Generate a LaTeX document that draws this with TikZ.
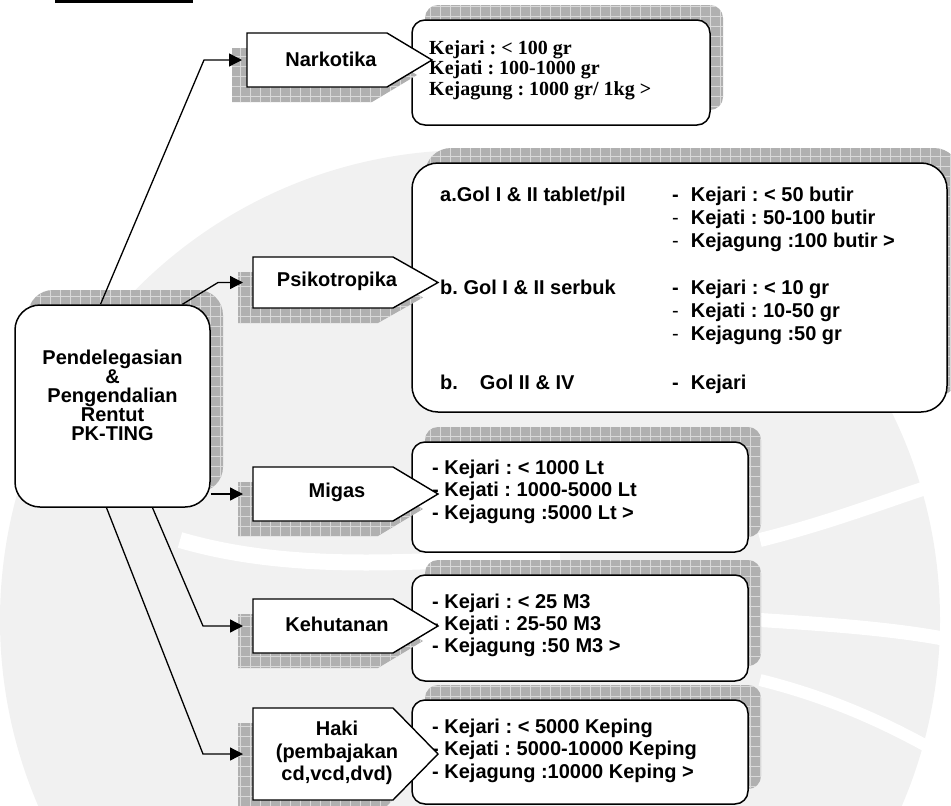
\documentclass[tikz,border=0pt]{standalone}
\usepackage{fontspec}
\setmainfont{Liberation Sans}
\newfontfamily\timesbold{Liberation Serif}
\usetikzlibrary{positioning, arrows.meta, calc, patterns.meta, shadows}
\frenchspacing

% pentagon tag: top-left corner (#1,#2), half height #3
\newcommand{\tagpath}[3]{(#1,#2) -- ++(140,0) -- ++(45,#3) -- ++(-45,#3) -- ++(-140,0) -- cycle}

\begin{document}
\begin{tikzpicture}[
    x=1pt, y=-1pt,
    font=\bfseries\fontsize{20}{22}\selectfont,
    >={Triangle[length=13pt, width=13pt]},
    % grey grid shadow, shifted by (#1,#2)
    grid_shadow/.style 2 args={
        general shadow={shadow xshift=#1, shadow yshift=#2, draw=none, fill=gray!62},
        general shadow={shadow xshift=#1, shadow yshift=#2, draw=none,
            pattern={Hatch[distance=10pt, line width=0.7pt]}, pattern color=gray!30}
    },
    tagshadow/.style={fill=gray!62, xshift=-15pt, yshift=-15pt,
        postaction={pattern={Hatch[distance=10pt, line width=0.7pt]}, pattern color=gray!30}},
    tagline/.style={draw, line width=1.4pt, fill=white, line join=miter},
    mainbox/.style={draw, line width=1.5pt, fill=white, rounded corners=25pt,
        minimum width=195pt, minimum height=202pt, grid_shadow={13pt}{15pt}},
    infobox/.style={draw, line width=1.5pt, fill=white, rounded corners=13pt,
        inner sep=0pt, grid_shadow={13pt}{15pt}},
    listtext/.style={anchor=base west, align=left, inner sep=0pt},
    conn/.style={line width=1.3pt, ->, shorten >=10pt}
]
    \useasboundingbox (0,0) rectangle (951,806);
    \clip (0,0) rectangle (951,806);

    % --- faint watermark in the background ---
    \fill [gray!11] (470,620) circle (470);
    \draw [white, line width=16pt] (180,540) .. controls (300,575) and (430,560) .. (560,555);
    \draw [white, line width=14pt] (760,540) .. controls (840,520) and (900,495) .. (951,480);
    \draw [white, line width=14pt] (760,620) .. controls (840,625) and (900,630) .. (951,640);
    \draw [white, line width=12pt] (760,680) .. controls (840,700) and (900,730) .. (951,760);

    % --- remnant of the heading underline ---
    \draw [line width=3pt] (55,1) -- (193,1);

    % --- detail boxes on the right ---
    \node [infobox, minimum width=298pt, minimum height=105pt] (narkoinfo) at (561,72.5) {};
    \node [infobox, rounded corners=26pt, minimum width=535pt, minimum height=249pt] (psikoinfo) at (679.5,287.5) {};
    \node [infobox, minimum width=336pt, minimum height=110pt] (migasinfo) at (580,497) {};
    \node [infobox, minimum width=336pt, minimum height=106pt] (hutaninfo) at (580,628) {};
    \node [infobox, minimum width=336pt, minimum height=104pt] (hakiinfo) at (580,752) {};

    % texts of the detail boxes (base = baseline of the last line)
    \node [listtext, font=\timesbold\bfseries\fontsize{20}{20.5}\selectfont] (narkolist) at (429,95)
        {Kejari : < 100 gr\\Kejati : 100-1000 gr\\Kejagung : 1000 gr/ 1kg >};

    \node [listtext] (psikoA) at (440,201) {a.Gol I \& II tablet/pil};
    \node [listtext, font=\bfseries\fontsize{20}{23}\selectfont] (psikoAlist) at (672,247)
        {-\hspace{0.6em}Kejari : < 50 butir\\{\mdseries -}\hspace{0.6em}Kejati : 50-100 butir\\{\mdseries -}\hspace{0.6em}Kejagung :100 butir >};
    \node [listtext] (psikoB) at (440,294) {b. Gol I \& II serbuk};
    \node [listtext, font=\bfseries\fontsize{20}{23}\selectfont] (psikoBlist) at (672,340)
        {-\hspace{0.6em}Kejari : < 10 gr\\{\mdseries -}\hspace{0.6em}Kejati : 10-50 gr\\{\mdseries -}\hspace{0.6em}Kejagung :50 gr};
    \node [listtext] (psikoC) at (440,389) {b.\hspace{1.1em}Gol II \& IV};
    \node [listtext] (psikoClist) at (672,389) {-\hspace{0.6em}Kejari};

    \node [listtext, font=\bfseries\fontsize{20}{22.5}\selectfont] (migaslist) at (432,519)
        {- Kejari : < 1000 Lt\\- Kejati : 1000-5000 Lt\\- Kejagung :5000 Lt >};
    \node [listtext] (hutanlist) at (432,652)
        {- Kejari : < 25 M3\\- Kejati : 25-50 M3\\- Kejagung :50 M3 >};
    \node [listtext, font=\bfseries\fontsize{20}{22.5}\selectfont] (hakilist) at (432,778)
        {- Kejari : < 5000 Keping\\- Kejati : 5000-10000 Keping\\- Kejagung :10000 Keping >};

    % --- central box ---
    \node [mainbox] (pk) at (112.5,406) {};
    \node [align=center, font=\bfseries\fontsize{20}{19}\selectfont] (pktext) at (112.5,395)
        {Pendelegasian\\\&\\Pengendalian\\Rentut\\PK-TING};

    % --- category tags (shadow, then outline) ---
    \path [tagshadow] \tagpath{247}{33}{27};
    \draw [tagline]   \tagpath{247}{33}{27};
    \path [tagshadow] \tagpath{253}{257}{25.5};
    \draw [tagline]   \tagpath{253}{257}{25.5};
    \path [tagshadow] \tagpath{253}{467}{27};
    \draw [tagline]   \tagpath{253}{467}{27};
    \path [tagshadow] \tagpath{253}{599}{27};
    \draw [tagline]   \tagpath{253}{599}{27};
    \path [tagshadow] \tagpath{253}{708}{46};
    \draw [tagline]   \tagpath{253}{708}{46};

    \node (narko) at (331,59) {Narkotika};
    \node (psiko) at (337,281) {Psikotropika};
    \node (migas) at (337,492) {Migas};
    \node (hutan) at (337,624) {Kehutanan};
    \node [align=center, font=\bfseries\fontsize{20}{22.5}\selectfont] (haki) at (337,753)
        {Haki\\(pembajakan\\cd,vcd,dvd)};

    \coordinate (narkoin) at (247,60);
    \coordinate (psikoin) at (253,282.5);
    \coordinate (migasin) at (253,494);
    \coordinate (hutanin) at (253,626);
    \coordinate (hakiin)  at (253,754);

    % --- connectors ---
    \draw [conn, shorten >=5pt] ([xshift=-12pt]pk.north) -- ([xshift=-43pt]narkoin) -- (narkoin);
    \draw [conn] ([xshift=70pt]pk.north) -- ([xshift=-35pt]psikoin) -- (psikoin);
    \draw [conn] (pk.east |- migasin) -- (migasin);
    \draw [conn] ([xshift=40pt]pk.south) -- ([xshift=-50pt]hutanin) -- (hutanin);
    \draw [conn] ([xshift=-6pt]pk.south) -- ([xshift=-50pt]hakiin) -- (hakiin);
\end{tikzpicture}
\end{document}
